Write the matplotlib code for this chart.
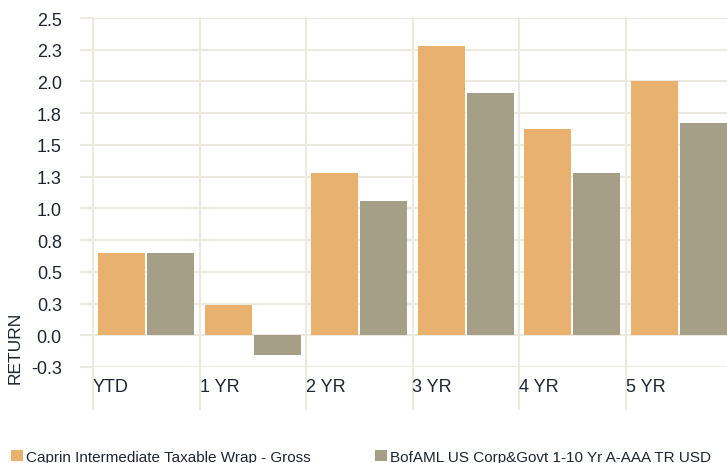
import matplotlib.pyplot as plt
import numpy as np

# Dati
periods = ['YTD', '1 YR', '2 YR', '3 YR', '4 YR', '5 YR']
caprin = [0.645, 0.236, 1.276, 2.283, 1.622, 2.0]
bofaml = [0.645, -0.155, 1.055, 1.906, 1.276, 1.669]
series_names = ['Caprin Intermediate Taxable Wrap - Gross',
                'BofAML US Corp&Govt 1-10 Yr A-AAA TR USD']
y_ticks = [-0.25, 0.0, 0.25, 0.5, 0.75, 1.0, 1.25, 1.5, 1.75, 2.0, 2.25, 2.5]
y_labels = ['-0.3', '0.0', '0.3', '0.5', '0.8', '1.0', '1.3', '1.5', '1.8', '2.0', '2.3', '2.5']

orange = '#E8B16E'
grey = '#A59F87'
grid_col = '#ECE9E1'
text_col = '#1F2631'

plt.rcParams['font.family'] = ['Liberation Sans', 'DejaVu Sans']

fig = plt.figure(figsize=(7.27, 4.64), dpi=100)
ax = fig.add_axes([93 / 727, 1 - 368 / 464, 639 / 727, 349 / 464])

x = np.arange(len(periods))
w = 0.44
ax.bar(x + 0.05, caprin, width=w, align='edge', color=orange, label=series_names[0], zorder=3)
ax.bar(x + 0.05 + w + 0.02, bofaml, width=w, align='edge', color=grey, label=series_names[1], zorder=3)

ax.set_xlim(0, len(periods))
ax.set_ylim(-0.25, 2.5)

# griglia orizzontale + tacche a sinistra
ax.set_yticks(y_ticks)
ax.set_yticklabels(y_labels)
for yv in y_ticks:
    ax.axhline(yv, color=grid_col, lw=1.5, zorder=1)
ax.tick_params(axis='y', length=9.5, width=1.5, color=grid_col, pad=13,
               labelsize=13, labelcolor=text_col)

# griglia verticale che scende sotto l'asse
for xv in x:
    ax.axvline(xv, ymin=-0.12, ymax=1, color=grid_col, lw=1.5, zorder=1, clip_on=False)
ax.set_xticks(x)
ax.set_xticklabels(periods, ha='left')
ax.tick_params(axis='x', length=0, pad=8, labelsize=13, labelcolor=text_col)

for s in ax.spines.values():
    s.set_visible(False)

fig.text(15 / 727, 1 - 348 / 464, 'RETURN', rotation=90, ha='center', va='center',
         fontsize=12.5, color=text_col)

fig.legend(loc='lower left', bbox_to_anchor=(0.0, -0.025), ncol=2, frameon=False,
           handlelength=0.8, handleheight=0.8, handletextpad=0.2, columnspacing=4.2,
           fontsize=11, labelcolor=text_col, borderaxespad=0.3)

fig.savefig('out.png', dpi=100)
